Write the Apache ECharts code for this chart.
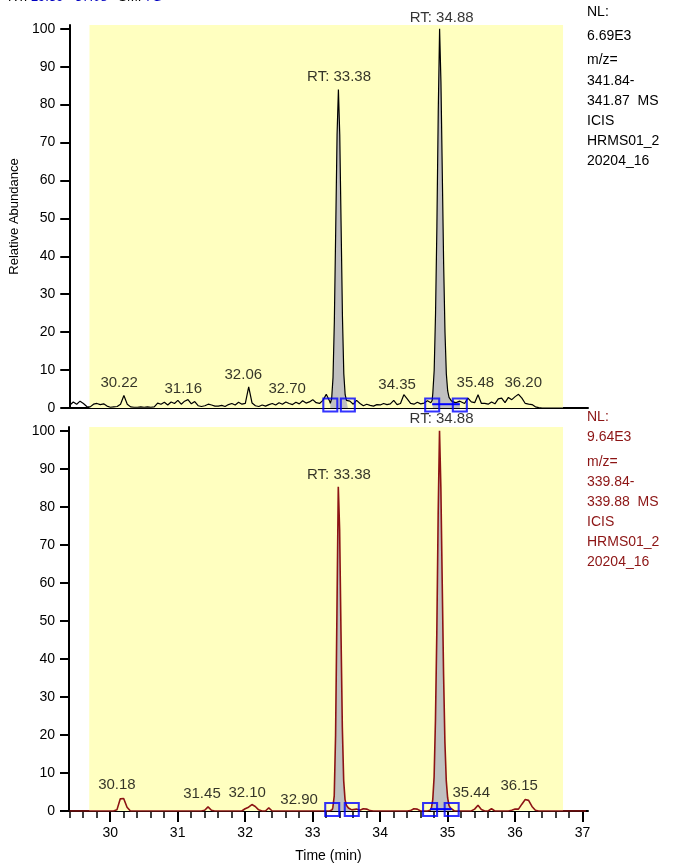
<!DOCTYPE html>
<html>
<head>
<meta charset="utf-8">
<script src="https://cdn.jsdelivr.net/npm/echarts@6/dist/echarts.min.js"></script>
<style>
html,body{margin:0;padding:0;background:#fff;}
#chart{width:674px;height:864px;}
</style>
</head>
<body>
<div id="chart"></div>
<script>
// ---------- data ----------
const XMIN = 29.39, XMAX = 37.08;
const majorTicks = [30, 31, 32, 33, 34, 35, 36, 37];
const minorTicks = [29.4, 29.6, 29.8, 30.2, 30.4, 30.6, 30.8, 31.2, 31.4, 31.6, 31.8, 32.2, 32.4, 32.6, 32.8,
  33.2, 33.4, 33.6, 33.8, 34.2, 34.4, 34.6, 34.8, 35.2, 35.4, 35.6, 35.8, 36.2, 36.4, 36.6, 36.8];
const yTicks = [0, 10, 20, 30, 40, 50, 60, 70, 80, 90, 100];

// baseline sampled every 0.05 min from 29.40 (null = covered by a peak list)
const GRID_START = 29.40, GRID_STEP = 0.05;
const topBase = [
  0.8,1.6,1.0,1.8,1.2,0.4,0.3,1.0,1.2,0.9,
  1.1,0.5,0.2,0.3,0.4,1.0,3.3,1.0,0.3,0.2,
  0.2,0.3,0.2,0.3,0.2,0.3,1.3,1.0,1.5,0.8,
  1.6,1.2,2.0,1.0,1.8,2.2,1.1,1.7,0.6,0.4,
  0.6,1.0,0.8,0.5,0.5,0.7,0.4,0.9,1.2,0.8,
  1.5,1.0,1.2,5.6,1.3,0.6,0.4,0.8,0.5,0.9,
  1.2,0.8,1.4,1.0,1.6,1.2,0.9,1.5,1.1,1.9,
  1.3,1.6,2.2,1.4,1.2,2.0,3.6,1.8,null,null,
  null,null,null,1.8,1.0,2.0,1.2,0.6,1.0,0.7,
  0.5,0.9,0.8,1.2,0.9,1.1,2.0,0.9,1.2,3.5,
  2.4,1.2,1.0,1.5,1.1,1.3,1.9,1.4,null,null,
  null,null,null,null,null,null,1.8,1.2,2.6,1.6,
  1.4,3.5,1.2,1.2,1.0,1.6,1.1,2.4,2.6,1.4,
  2.8,2.2,3.0,3.6,2.6,1.2,1.0,0.9,0.3,0.1,
  0,0,0,0,0,0,0,0,0,0,
  0,0,0,0
];
const botBase = [
  0,0,0,0,0,0,0,0,0,0,
  0,0,0,0,0.3,3.2,3.3,1.0,0,0,
  0,0,0,0,0,0,0,0,0,0,
  0,0,0,0,0,0,0,0,0,0,
  0.2,1.1,0.2,0,0,0,0,0,0,0,
  0,0,0.6,1.0,1.7,1.2,0.3,0,0,0.8,
  0,0,0,0,0,0,0,0,0,0,
  0,0,0,0,0,0,0,0,null,null,
  null,null,null,null,0.2,0.5,0.2,0.6,0.5,0.1,
  0,0,0,0,0,0,0,0,0,0,
  0,0.1,0.6,0.5,0,0,0,null,null,null,
  null,null,null,null,0,0,0,0,0,0,
  0.5,1.5,0.4,0,0,0.6,0,0,0,0,
  0,0.2,0.5,0.5,1.8,3.0,2.8,1.2,0.2,0,
  0,0,0,0,0,0,0,0,0,0,
  0,0,0,0
];

const topPk1 = [[33.26,1.2],[33.28,2.5],[33.30,8],[33.32,23],[33.34,47],[33.36,72],[33.38,84],[33.40,72],[33.42,48],[33.44,24],[33.46,9],[33.48,3.5],[33.50,2],[33.52,1.5]];
const topPk2 = [[34.77,2],[34.78,4],[34.80,10],[34.82,25],[34.84,48],[34.86,78],[34.88,100],[34.90,86],[34.92,62],[34.94,38],[34.96,20],[34.98,9],[35.00,4.5],[35.02,2.8],[35.05,2.0],[35.08,1.6],[35.12,1.4],[35.15,1.6],[35.18,1.8]];
const botPk1 = [[33.29,0.3],[33.30,1],[33.32,4],[33.34,20],[33.36,52],[33.38,85.3],[33.40,74],[33.42,47],[33.44,22],[33.46,8],[33.48,3],[33.50,1.5],[33.53,0.8],[33.55,0.5],[33.58,0.3]];
const botPk2 = [[34.74,0.2],[34.76,0.8],[34.78,3],[34.80,9],[34.82,24],[34.84,47],[34.86,78],[34.88,100],[34.90,85],[34.92,60],[34.94,36],[34.96,18],[34.98,8],[35.00,3.5],[35.02,1.5],[35.04,0.8],[35.06,0.4]];

// integration boundary markers
const topBounds = [[33.26,0.8],[33.52,0.8],[34.77,0.8],[35.18,0.8]];
const topBaseLine = [[34.77,1.0],[35.18,1.0]];
const botBounds = [[33.29,0.4],[33.58,0.4],[34.74,0.4],[35.06,0.4]];
const botBaseLine = [[34.74,0.5],[35.06,0.5]];

// peak labels (text, time, height)
const topLabelText = ['30.22','31.16','32.06','32.70','RT: 33.38','34.35','RT: 34.88','35.48','36.20'];
const topLabelT = [30.13, 31.08, 31.97, 32.62, 33.39, 34.25, 34.91, 35.41, 36.12];
const topLabelV = [6.6, 5.0, 8.7, 5.0, 87.2, 6.1, 102.9, 6.6, 6.6];
const botLabelText = ['30.18','31.45','32.10','32.90','RT: 33.38','RT: 34.88','35.44','36.15'];
const botLabelT = [30.10, 31.36, 32.03, 32.80, 33.39, 34.91, 35.35, 36.06];
const botLabelV = [6.8, 4.5, 4.7, 2.9, 88.4, 103.2, 4.7, 6.6];

const highlight = [29.69, 36.71];

const topInfo = ['NL:', '6.69E3', 'm/z=', '341.84-', '341.87  MS', 'ICIS', 'HRMS01_2', '20204_16'];
const botInfo = ['NL:', '9.64E3', 'm/z=', '339.84-', '339.88  MS', 'ICIS', 'HRMS01_2', '20204_16'];

// ---------- build ----------
const FONT = 'Liberation Sans, Arial, sans-serif';
function buildTrace(base, peaks) {
  const pts = [];
  base.forEach((v, i) => {
    if (v === null) return;
    const t = +(GRID_START + i * GRID_STEP).toFixed(2);
    for (const p of peaks) { if (t >= p[0][0] && t <= p[p.length-1][0]) return; }
    pts.push([t, v]);
  });
  peaks.forEach(p => p.forEach(q => pts.push(q)));
  pts.sort((a, b) => a[0] - b[0]);
  return pts;
}
const topTrace = buildTrace(topBase, [topPk1, topPk2]);
const botTrace = buildTrace(botBase, [botPk1, botPk2]);

function labels(txt, t, v) { return txt.map((s, i) => ({ name: s, value: [t[i], v[i]] })); }

const RED = '#8c1414';

function panelSeries(g, trace, pk1, pk2, bounds, baseLine, lbl, color, lw) {
  const xi = g === 0 ? 0 : 1;
  return [
    { type: 'line', xAxisIndex: xi, yAxisIndex: g, data: trace, symbol: 'none', z: 3,
      lineStyle: { color: color, width: lw }, animation: false,
      markArea: { silent: true, z: 1, itemStyle: { color: '#ffffc0' },
        data: [[{ xAxis: highlight[0], yAxis: 0 }, { xAxis: highlight[1], yAxis: 101 }]] } },
    { type: 'line', xAxisIndex: xi, yAxisIndex: g, data: pk1, symbol: 'none', z: 2,
      lineStyle: { width: 0 }, areaStyle: { color: '#c0c0c0', opacity: 1 }, animation: false },
    { type: 'line', xAxisIndex: xi, yAxisIndex: g, data: pk2, symbol: 'none', z: 2,
      lineStyle: { width: 0 }, areaStyle: { color: '#c0c0c0', opacity: 1 }, animation: false },
    { type: 'line', xAxisIndex: xi, yAxisIndex: g, data: baseLine, symbol: 'none', z: 4,
      lineStyle: { color: '#0000ff', width: 2 }, animation: false },
    { type: 'scatter', xAxisIndex: xi, yAxisIndex: g, data: bounds, symbol: 'rect', symbolSize: [14, 13], z: 5,
      itemStyle: { color: 'rgba(0,0,0,0)', borderColor: '#0000ff', borderWidth: 2 }, animation: false, clip: false },
    { type: 'scatter', xAxisIndex: xi, yAxisIndex: g, data: lbl, symbolSize: 0, z: 6, clip: false,
      label: { show: true, position: 'inside', formatter: '{b}', color: '#000', fontSize: 15, fontFamily: FONT },
      animation: false }
  ];
}

const yAxisBase = (g) => ({
  gridIndex: g, type: 'value', min: 0, max: 101,
  axisLine: { show: true, lineStyle: { color: '#000', width: 2 } },
  axisTick: { show: true, customValues: yTicks, length: 9, lineStyle: { color: '#000', width: 2 } },
  axisLabel: { customValues: yTicks, color: '#000', fontSize: 14, fontFamily: FONT, margin: 14 },
  splitLine: { show: false }
});

const option = {
  animation: false,
  backgroundColor: '#fff',
  grid: [
    { left: 69, top: 25, width: 519, height: 383 },
    { left: 69, top: 427, width: 519, height: 384 }
  ],
  xAxis: [
    { gridIndex: 0, type: 'value', min: XMIN, max: XMAX, position: 'bottom',
      axisLine: { show: true, onZero: false, lineStyle: { color: '#000', width: 2 } },
      axisTick: { show: false }, axisLabel: { show: false }, splitLine: { show: false } },
    { gridIndex: 1, type: 'value', min: XMIN, max: XMAX, position: 'bottom',
      axisLine: { show: true, onZero: false, lineStyle: { color: '#000', width: 2 } },
      axisTick: { show: true, customValues: majorTicks, length: 11, lineStyle: { color: '#000', width: 2 } },
      axisLabel: { customValues: majorTicks, color: '#000', fontSize: 14, fontFamily: FONT, margin: 15 },
      splitLine: { show: false },
      name: 'Time (min)', nameLocation: 'middle', nameGap: 38,
      nameTextStyle: { color: '#000', fontSize: 14, fontFamily: FONT } },
    { gridIndex: 1, type: 'value', min: XMIN, max: XMAX, position: 'bottom',
      axisLine: { show: false },
      axisTick: { show: true, customValues: minorTicks, length: 7, lineStyle: { color: '#000', width: 1.5 } },
      axisLabel: { show: false }, splitLine: { show: false } }
  ],
  yAxis: [
    Object.assign(yAxisBase(0), { name: 'Relative Abundance', nameLocation: 'middle', nameGap: 44,
      nameTextStyle: { color: '#000', fontSize: 13, fontFamily: FONT } }),
    yAxisBase(1)
  ],
  series: [
    ...panelSeries(0, topTrace, topPk1, topPk2, topBounds, topBaseLine, labels(topLabelText, topLabelT, topLabelV), '#000', 1.2),
    ...panelSeries(1, botTrace, botPk1, botPk2, botBounds, botBaseLine, labels(botLabelText, botLabelT, botLabelV), RED, 1.6)
  ],
  graphic: [
    { type: 'text', x: 8, y: 3.5, z: 10, style: {
      text: '{k|RT:} {b|29.39} {k|-} {b|37.08}   {k|SM:} {b|7G}', verticalAlign: 'bottom',
      font: '13px ' + FONT,
      rich: { k: { fill: '#000', font: '13px ' + FONT }, b: { fill: '#0000c0', font: '13px ' + FONT } } } }
  ]
};

const topInfoY = [12, 36, 60, 81, 101, 121, 141, 161];
const botInfoY = [417, 437, 462, 482, 502, 522, 542, 562];
topInfo.forEach((s, i) => option.graphic.push({ type: 'text', x: 587, y: topInfoY[i], z: 10,
  style: { text: s, fill: '#000', font: '14px ' + FONT, verticalAlign: 'middle' } }));
botInfo.forEach((s, i) => option.graphic.push({ type: 'text', x: 587, y: botInfoY[i], z: 10,
  style: { text: s, fill: RED, font: '14px ' + FONT, verticalAlign: 'middle' } }));

const chart = echarts.init(document.getElementById('chart'), null, { renderer: 'canvas' });
chart.setOption(option);
</script>
</body>
</html>
